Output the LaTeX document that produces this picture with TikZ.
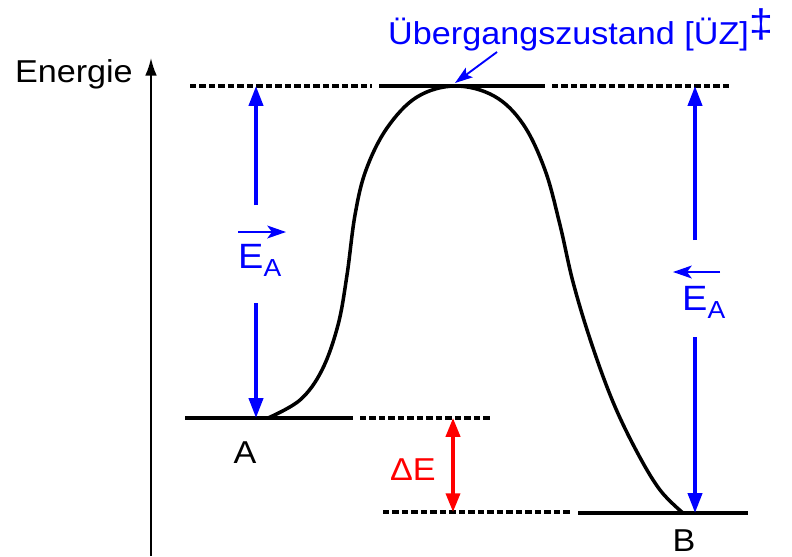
\documentclass[tikz,border=0pt]{standalone}
\usepackage{fontspec}
\setmainfont{Liberation Sans}[FakeStretch=1.08]
\usepackage{tikz}
\usetikzlibrary{arrows.meta,calc}
\newcommand{\EAsub}{E\raisebox{-.25em}{\fontsize{21}{21}\selectfont A}}

\begin{document}
\begin{tikzpicture}[x=0.03cm,y=-0.03cm,
    level/.style={line width=3.3pt},
    dashlevel/.style={line width=3.3pt,dash pattern=on 5.5pt off 2.6pt},
    eaarrow/.style={blue,line width=3.2pt,-{Triangle[length=17pt,width=12pt]}},
    overarrow/.style={blue,line width=1.6pt,-{Stealth[length=16pt,width=11pt,inset=4pt]}},
    label/.style={font=\fontsize{27}{32}\selectfont,inner sep=0pt}]
    \useasboundingbox (0,0) rectangle (792,556);
    % energy axis
    \coordinate (axbot) at (151,556);
    \coordinate (axtop) at (151,58);
    \draw[line width=1.7pt,-{Latex[length=15pt,width=10pt]}] (axbot) -- (axtop);
    \node[label,anchor=base east] (energie) at (133,82) {Energie};
    % levels
    \draw[dashlevel] (190,86) -- (372,86);
    \draw[level] (379,86) -- (545,86);
    \draw[dashlevel] (552,86) -- (730,86);
    \draw[level] (185,418) -- (353,418);
    \draw[dashlevel] (360,418) -- (492,418);
    \draw[dashlevel] (383,512) -- (572,512);
    \draw[level] (578,513) -- (748,513);
    % reaction path
    \draw[line width=3pt,line join=round] plot[smooth,tension=0.6] coordinates {
        (268,418) (300,400) (322,370) (338,325) (347,275) (355,215)
        (366,170) (387,128) (417,97) (455,86) (494,96) (523,124)
        (545,170) (560,225) (573,282) (591,342) (613,402) (637,452)
        (660,490) (683,513)};
    % transition state
    \coordinate (ts) at (455,83);
    \node[label,blue,anchor=base west] (uez) at (388,44)
        {Übergangszustand [ÜZ]\raisebox{.22em}{\fontsize{34}{34}\selectfont ‡}};
    \draw[blue,line width=1.6pt,-{Stealth[length=15pt,width=10pt,inset=3pt]}] (497,52) -- (ts);
    % activation energy forward
    \coordinate (tsL) at (256,86);
    \coordinate (aL) at (256,418);
    \node[label,blue,anchor=base west,font=\fontsize{30}{34}\selectfont] (eal) at (238,268) {\EAsub};
    \draw[eaarrow] (256,205) -- (tsL);
    \draw[eaarrow] (256,303) -- (aL);
    \draw[overarrow] ($(eal.base west)+(0,-36)$) -- ++(48,0);
    % activation energy backward
    \coordinate (tsR) at (695,86);
    \coordinate (bR) at (695,513);
    \node[label,blue,anchor=base west,font=\fontsize{30}{34}\selectfont] (ear) at (682,310) {\EAsub};
    \draw[eaarrow] (695,240) -- (tsR);
    \draw[eaarrow] (695,337) -- (bR);
    \draw[overarrow] ($(ear.base west)+(38,-38)$) -- ++(-47,0);
    % reaction energy
    \coordinate (dEtop) at (453,418);
    \coordinate (dEbot) at (453,512);
    \draw[red,line width=3pt,{Triangle[length=16pt,width=12pt]}-{Triangle[length=16pt,width=12pt]}] (dEtop) -- (dEbot);
    \node[label,red,anchor=base east] (dE) at (436,480) {ΔE};
    % states
    \node[label,anchor=base] (A) at (245,463) {A};
    \node[label,anchor=base] (B) at (684,551) {B};
\end{tikzpicture}
\end{document}
